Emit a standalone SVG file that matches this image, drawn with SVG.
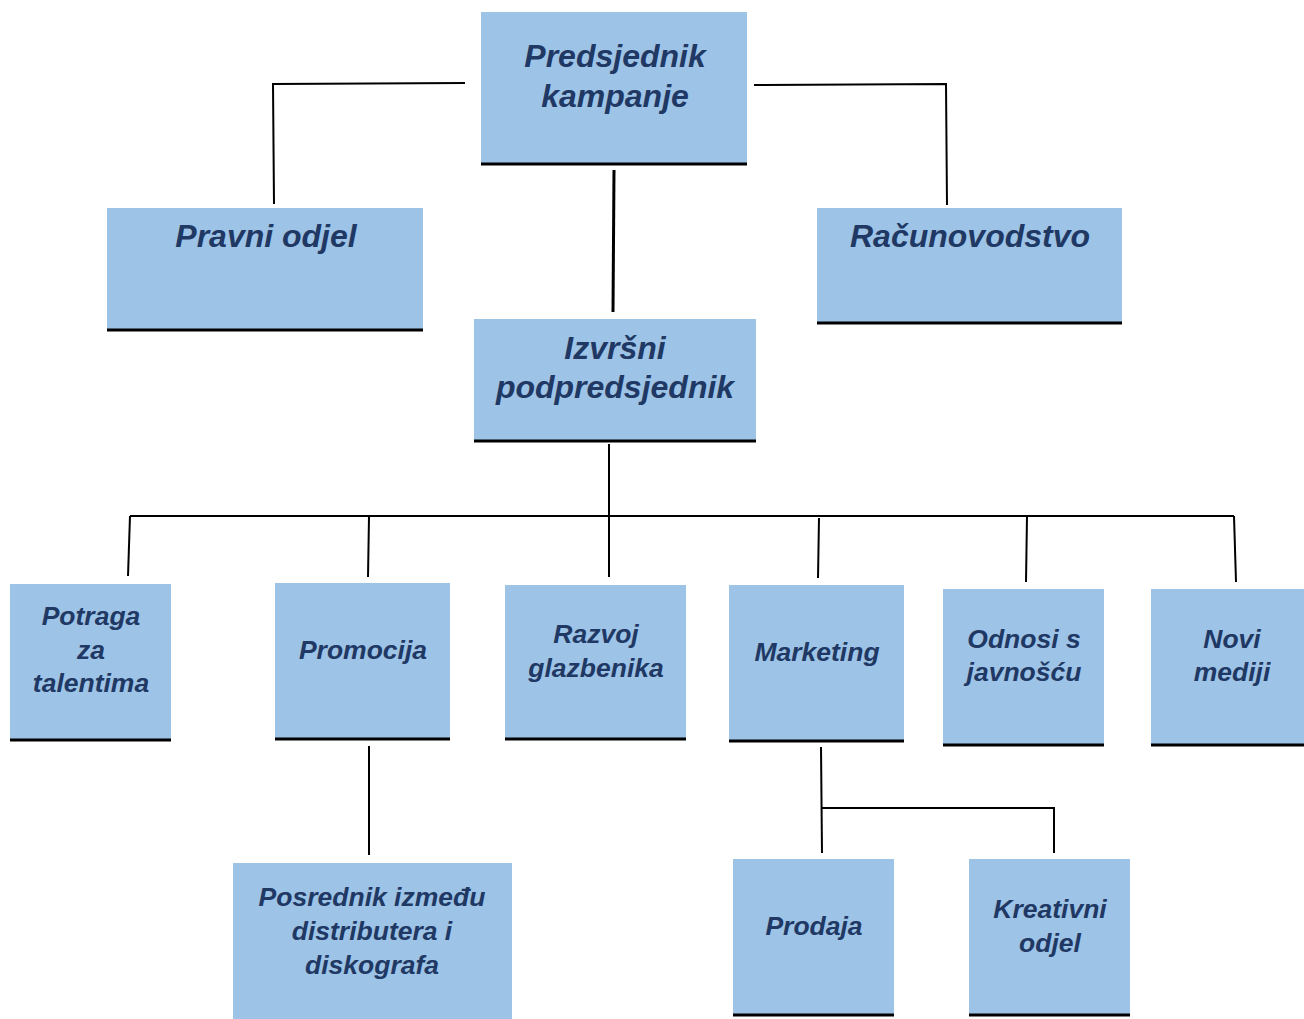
<svg xmlns="http://www.w3.org/2000/svg" width="1304" height="1019" viewBox="0 0 1304 1019">
<style>
.box{fill:#9DC3E6}
.base{stroke:#000;stroke-width:3}
.t{font-family:"Liberation Sans",Arial,sans-serif;font-weight:bold;font-style:italic;fill:#1F3864;text-anchor:middle}
.big{font-size:32px}
.sm{font-size:26.5px}
.c{fill:none;stroke:#000;stroke-width:2}
</style>
<rect width="1304" height="1019" fill="#fff"/>
<g id="connectors">
<polyline class="c" points="465,83 273,84 274,204"/>
<polyline class="c" points="754,85 946,84 947,205"/>
<line class="c" x1="614" y1="170" x2="613" y2="312" style="stroke-width:3"/>
<line class="c" x1="609" y1="444" x2="609" y2="516"/>
<line class="c" x1="130" y1="516" x2="1234" y2="516"/>
<polyline class="c" points="130,516 128,576"/>
<polyline class="c" points="369,517 368,577"/>
<polyline class="c" points="609,516 609,577"/>
<polyline class="c" points="819,518 818,578"/>
<polyline class="c" points="1027,516 1026,582"/>
<polyline class="c" points="1234,516 1236,582"/>
<line class="c" x1="369" y1="746" x2="369" y2="855"/>
<polyline class="c" points="821,747 822,853"/>
<polyline class="c" points="822,808 1054,808 1054,853"/>
</g>
<g id="predsjednik">
<rect class="box" x="481" y="12" width="266" height="152"/>
<line class="base" x1="481" y1="164" x2="747" y2="164"/>
<text class="t big" x="615" y="67">Predsjednik</text>
<text class="t big" x="615" y="107">kampanje</text>
</g>
<g id="pravni">
<rect class="box" x="107" y="208" width="316" height="122"/>
<line class="base" x1="107" y1="330" x2="423" y2="330"/>
<text class="t big" x="266" y="247">Pravni odjel</text>
</g>
<g id="racunovodstvo">
<rect class="box" x="817" y="208" width="305" height="115"/>
<line class="base" x1="817" y1="323" x2="1122" y2="323"/>
<text class="t big" x="970" y="247">Računovodstvo</text>
</g>
<g id="izvrsni">
<rect class="box" x="474" y="319" width="282" height="122"/>
<line class="base" x1="474" y1="441" x2="756" y2="441"/>
<text class="t big" x="615" y="359">Izvršni</text>
<text class="t big" x="615" y="398">podpredsjednik</text>
</g>
<g id="potraga">
<rect class="box" x="10" y="584" width="161" height="156"/>
<line class="base" x1="10" y1="740" x2="171" y2="740"/>
<text class="t sm" x="91" y="625">Potraga</text>
<text class="t sm" x="91" y="659">za</text>
<text class="t sm" x="91" y="692">talentima</text>
</g>
<g id="promocija">
<rect class="box" x="275" y="583" width="175" height="156"/>
<line class="base" x1="275" y1="739" x2="450" y2="739"/>
<text class="t sm" x="363" y="659">Promocija</text>
</g>
<g id="razvoj">
<rect class="box" x="505" y="585" width="181" height="154"/>
<line class="base" x1="505" y1="739" x2="686" y2="739"/>
<text class="t sm" x="596" y="643">Razvoj</text>
<text class="t sm" x="596" y="677">glazbenika</text>
</g>
<g id="marketing">
<rect class="box" x="729" y="585" width="175" height="156"/>
<line class="base" x1="729" y1="741" x2="904" y2="741"/>
<text class="t sm" x="817" y="661">Marketing</text>
</g>
<g id="odnosi">
<rect class="box" x="943" y="589" width="161" height="156"/>
<line class="base" x1="943" y1="745" x2="1104" y2="745"/>
<text class="t sm" x="1024" y="648">Odnosi s</text>
<text class="t sm" x="1024" y="681">javnošću</text>
</g>
<g id="novi">
<rect class="box" x="1151" y="589" width="153" height="156"/>
<line class="base" x1="1151" y1="745" x2="1304" y2="745"/>
<text class="t sm" x="1232" y="648">Novi</text>
<text class="t sm" x="1232" y="681">mediji</text>
</g>
<g id="posrednik">
<rect class="box" x="233" y="863" width="279" height="156"/>
<text class="t sm" x="372" y="906">Posrednik između</text>
<text class="t sm" x="372" y="940">distributera i</text>
<text class="t sm" x="372" y="974">diskografa</text>
</g>
<g id="prodaja">
<rect class="box" x="733" y="859" width="161" height="156"/>
<line class="base" x1="733" y1="1015" x2="894" y2="1015"/>
<text class="t sm" x="814" y="935">Prodaja</text>
</g>
<g id="kreativni">
<rect class="box" x="969" y="859" width="161" height="156"/>
<line class="base" x1="969" y1="1015" x2="1130" y2="1015"/>
<text class="t sm" x="1050" y="918">Kreativni</text>
<text class="t sm" x="1050" y="952">odjel</text>
</g>
</svg>
